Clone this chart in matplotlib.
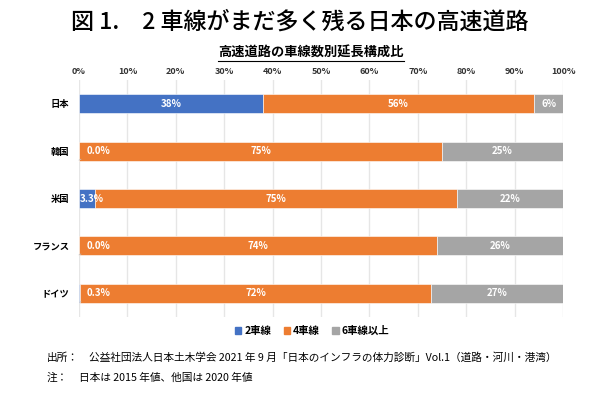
import matplotlib.pyplot as plt
from matplotlib.lines import Line2D
from matplotlib.patches import Patch

plt.rcParams['font.family'] = ['Noto Sans CJK JP', 'DejaVu Sans']

# データ
paises = ['日本', '韓国', '米国', 'フランス', 'ドイツ']
carril_2 = [38, 0.0, 3.3, 0.0, 0.3]
carril_4 = [56, 75, 74.7, 74, 72.4]
carril_6 = [6, 25, 22.0, 26, 27.3]
series = ['2車線', '4車線', '6車線以上']
colores = ['#4472C4', '#ED7D31', '#A5A5A5']
ticks = [0, 10, 20, 30, 40, 50, 60, 70, 80, 90, 100]

fig = plt.figure(figsize=(6, 3.99), dpi=100)
ax = fig.add_axes([0.1317, 0.2055, 0.8067, 0.594])

y = list(range(len(paises)))
izq = [0] * len(paises)
for vals, nombre, col in zip([carril_2, carril_4, carril_6], series, colores):
    ax.barh(y, vals, left=izq, height=0.4, color=col,
            edgecolor='white', linewidth=0.4, label=nombre, zorder=2)
    for i, v in enumerate(vals):
        texto = f'{v:.1f}%' if v < 5 else f'{v:.0f}%'
        if v < 1:
            ax.annotate(texto, xy=(izq[i] + v / 2, i + 0.19), xytext=(1.5, i),
                        ha='left', va='center', color='white', fontsize=7,
                        fontweight='bold', zorder=4,
                        arrowprops=dict(arrowstyle='-', color='#BFBFBF', lw=0.6))
        elif v < 5:
            ax.text(izq[i] + 0.2, i, texto, ha='left', va='center',
                    color='white', fontsize=7, fontweight='bold', zorder=4)
        else:
            ax.text(izq[i] + v / 2, i, texto, ha='center', va='center',
                    color='white', fontsize=7, fontweight='bold', zorder=4)
    izq = [a + b for a, b in zip(izq, vals)]

ax.set_xlim(0, 100)
ax.set_ylim(4.5, -0.5)
ax.set_yticks(y)
ax.set_yticklabels(paises, fontsize=6.7, fontweight='bold')
ax.set_xticks(ticks)
ax.set_xticklabels([f'{t}%' for t in ticks], fontsize=6.5, fontweight='bold', color='#333333')
ax.xaxis.tick_top()
ax.tick_params(length=0, pad=7)
ax.tick_params(axis='x', pad=3)
ax.grid(axis='x', color='#E6E6E6', linewidth=1, zorder=0)
for s in ax.spines.values():
    s.set_visible(False)

# 凡例
handles = [Patch(color=c) for c in colores]
fig.legend(handles, series, loc='center', bbox_to_anchor=(0.52, 1 - 331 / 399),
           ncol=3, frameon=False, handlelength=0.6, handleheight=0.6,
           handletextpad=0.3, columnspacing=1.2,
           prop={'size': 7.5, 'weight': 'bold'})

fig.text(0.5, 1 - 22 / 399, '図 1.　2 車線がまだ多く残る日本の高速道路', ha='center', va='center',
         fontsize=16.6, fontweight='medium')
sub = fig.text(0.518, 1 - 53 / 399, '高速道路の車線数別延長構成比', ha='center', va='center',
               fontsize=9.5, fontweight='bold')

fig.text(47 / 600, 1 - 358 / 399, '出所：', ha='left', va='center', fontsize=7.7)
fig.text(89 / 600, 1 - 358 / 399,
         '公益社団法人日本土木学会 2021 年 9 月「日本のインフラの体力診断」Vol.1（道路・河川・港湾）',
         ha='left', va='center', fontsize=7.7)
fig.text(47 / 600, 1 - 378 / 399, '注：', ha='left', va='center', fontsize=7.7)
fig.text(79 / 600, 1 - 378 / 399, '日本は 2015 年値、他国は 2020 年値',
         ha='left', va='center', fontsize=7.7)

# 下線
fig.canvas.draw()
bb = sub.get_window_extent().transformed(fig.transFigure.inverted())
fig.add_artist(Line2D([bb.x0, bb.x1], [bb.y0 - 0.002, bb.y0 - 0.002],
                      color='black', linewidth=0.8, transform=fig.transFigure))

fig.savefig('out.png', dpi=100)
